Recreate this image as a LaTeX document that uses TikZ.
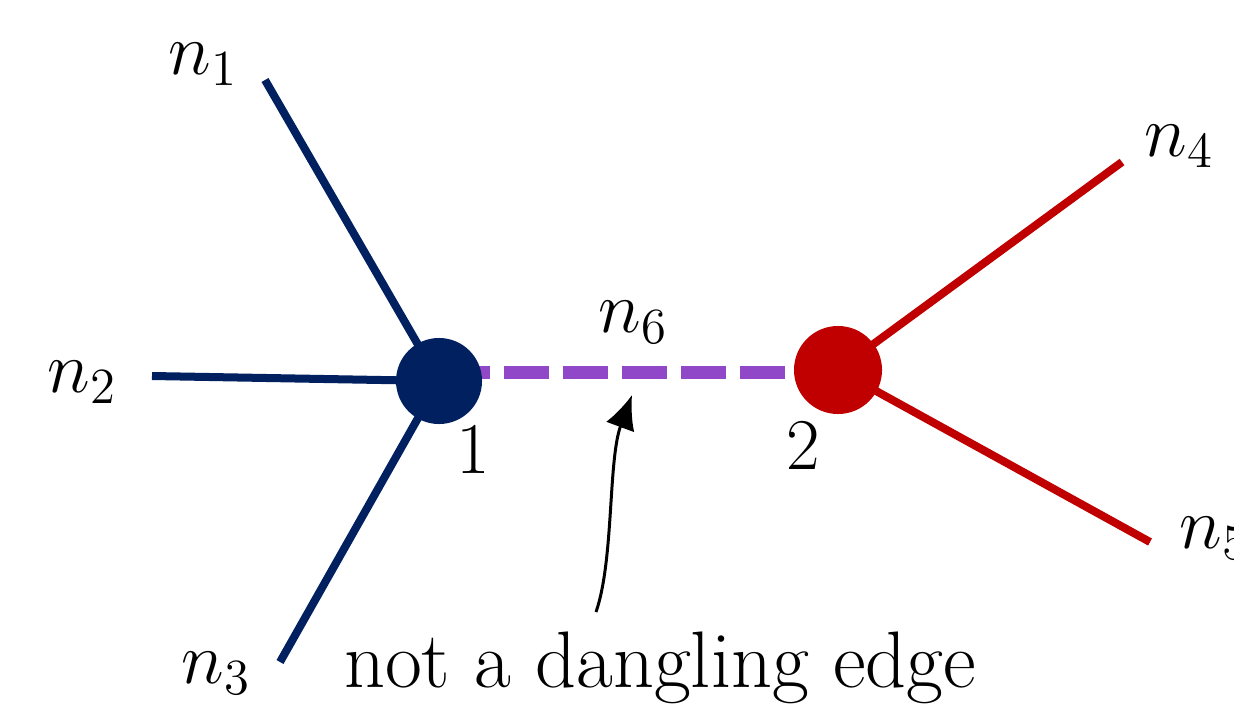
\documentclass[tikz,border=0pt]{standalone}
\usetikzlibrary{arrows.meta,backgrounds}
\definecolor{navy}{HTML}{002060}
\definecolor{dred}{HTML}{C00000}
\definecolor{dpurple}{HTML}{9148C8}
\begin{document}
\begin{tikzpicture}[x=0.01cm,y=-0.01cm,
  vtx/.style={circle,inner sep=0pt,minimum size=0.86cm},
  bluel/.style={draw=navy,line width=0.08cm},
  redl/.style={draw=dred,line width=0.08cm},
  lbl/.style={inner sep=0pt,font=\fontsize{21}{25}\selectfont},
  dangl/.style={draw=dpurple,line width=0.13cm,dash pattern=on 0.45cm off 0.14cm,dash phase=0.53cm}]
\useasboundingbox (0,0) rectangle (1234,712);
\clip (0,0) rectangle (1234,712);
\node[vtx,fill=navy] (v1) at (439,381) {};
\node[vtx,fill=dred,minimum size=0.88cm] (v2) at (838,370) {};
\coordinate (e1) at (265,80);
\coordinate (e2) at (152,376);
\coordinate (e3) at (280,662);
\coordinate (e4) at (1122,162);
\coordinate (e5) at (1150,542);
\begin{scope}[on background layer]
\draw[bluel] (v1.center) -- (e1);
\draw[bluel] (v1.center) -- (e2);
\draw[bluel] (v1.center) -- (e3);
\draw[redl] (v2.center) -- (e4);
\draw[redl] (v2.center) -- (e5);
\draw[dangl] (v1.center |- 0,372) -- (v2.center |- 0,372);
\end{scope}
\node[lbl] (l1) at (203,64) {$n_1$};
\node[lbl] (l2) at (82,382) {$n_2$};
\node[lbl] (l3) at (216,673) {$n_3$};
\node[lbl] (l4) at (1179,146) {$n_4$};
\node[lbl] (l5) at (1214,538) {$n_5$};
\node[lbl] (l6) at (633,322) {$n_6$};
\node[lbl] (t1) at (473,450) {$1$};
\node[lbl] (t2) at (803,446) {$2$};
\node[lbl,font=\fontsize{22.8}{27}\selectfont] (txt) at (660,668) {not a dangling edge};
\coordinate (atail) at (596,612);
\coordinate (ahead) at (632,395);
\draw[line width=0.85pt,-{Latex[length=0.34cm,width=0.3cm]}] (atail) .. controls (614,560) and (608,460) .. (ahead);
\end{tikzpicture}
\end{document}
